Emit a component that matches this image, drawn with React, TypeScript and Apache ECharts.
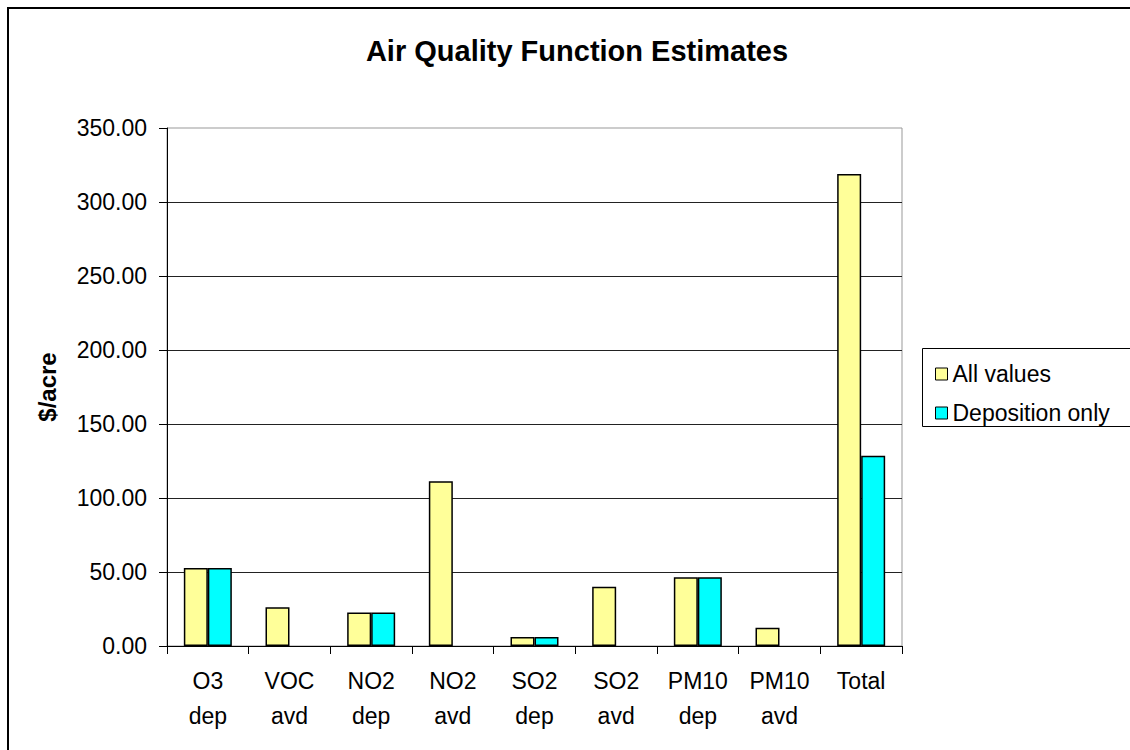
import React, { useEffect, useRef } from "react";
import * as echarts from "echarts";

const categories = ["O3\ndep", "VOC\navd", "NO2\ndep", "NO2\navd", "SO2\ndep", "SO2\navd", "PM10\ndep", "PM10\navd", "Total"];
const allValues = [52.7, 26.2, 22.6, 111.3, 6.1, 40.1, 46.5, 12.4, 318.9];
const depositionOnly: (number | string)[] = [52.7, "-", 22.6, "-", 6.1, "-", 46.5, "-", 128.6];
const yTicks = { min: 0, max: 350, interval: 50 };

const FONT = "'Liberation Sans', Arial, sans-serif";

export default function App() {
  const ref = useRef<HTMLDivElement>(null);
  useEffect(() => {
    if (!ref.current) return;
    const chart = echarts.init(ref.current, undefined, { renderer: "svg" });
    chart.setOption({
      animation: false,
      backgroundColor: "#ffffff",
      textStyle: { fontFamily: FONT, color: "#000" },
      title: {
        text: "Air Quality Function Estimates",
        left: 572,
        top: 31,
        textAlign: "center",
        textStyle: { fontFamily: FONT, fontSize: 29, fontWeight: "bold", color: "#000" },
      },
      legend: {
        orient: "vertical",
        left: 930,
        top: 357,
        itemWidth: 12,
        itemHeight: 12,
        itemGap: 15,
        icon: "rect",
        itemStyle: { borderColor: "#000", borderWidth: 1 },
        textStyle: { fontFamily: FONT, fontSize: 23, color: "#000", lineHeight: 24 },
        data: ["All values", "Deposition only"],
      },
      grid: {
        left: 167,
        right: 228,
        top: 128,
        bottom: 104,
        show: true,
        borderColor: "#999",
        borderWidth: 1,
        backgroundColor: "transparent",
      },
      xAxis: {
        type: "category",
        data: categories,
        axisLine: { lineStyle: { color: "#000", width: 1 } },
        axisTick: { show: true, length: 8, lineStyle: { color: "#000" } },
        axisLabel: {
          interval: 0,
          margin: 17,
          fontFamily: FONT,
          fontSize: 23,
          lineHeight: 35,
          color: "#000",
        },
      },
      yAxis: {
        type: "value",
        min: yTicks.min,
        max: yTicks.max,
        interval: yTicks.interval,
        name: "$/acre",
        nameLocation: "middle",
        nameGap: 108,
        nameRotate: 90,
        nameTextStyle: { fontFamily: FONT, fontSize: 24, fontWeight: "bold", color: "#000" },
        axisLine: { show: true, lineStyle: { color: "#000", width: 1 } },
        axisTick: { show: true, length: 8, lineStyle: { color: "#000" } },
        axisLabel: {
          margin: 20,
          fontFamily: FONT,
          fontSize: 23,
          color: "#000",
          formatter: (v: number) => v.toFixed(2),
        },
        splitLine: { show: true, showMaxLine: false, lineStyle: { color: "#222", width: 1 } },
      },
      series: [
        {
          name: "All values",
          type: "bar",
          data: allValues,
          barWidth: 24,
          barGap: "0%",
          itemStyle: { color: "#FFFF99", borderColor: "#000", borderWidth: 1.5 },
        },
        {
          name: "Deposition only",
          type: "bar",
          data: depositionOnly,
          barWidth: 24,
          barGap: "0%",
          itemStyle: { color: "#00FFFF", borderColor: "#000", borderWidth: 1.5 },
        },
      ],
      graphic: [
        {
          type: "rect",
          shape: { x: 8, y: 8, width: 1200, height: 800 },
          style: { fill: "none", stroke: "#000", lineWidth: 2 },
          silent: true,
        },
        {
          type: "rect",
          shape: { x: 922.5, y: 348.5, width: 220, height: 78 },
          style: { fill: "none", stroke: "#000", lineWidth: 1 },
          silent: true,
        },
      ],
    });
    return () => chart.dispose();
  }, []);
  return (
    <div style={{ position: "absolute", left: 0, top: 0, width: 1130, height: 750 }}>
      <div ref={ref} style={{ width: 1130, height: 750 }} />
    </div>
  );
}
